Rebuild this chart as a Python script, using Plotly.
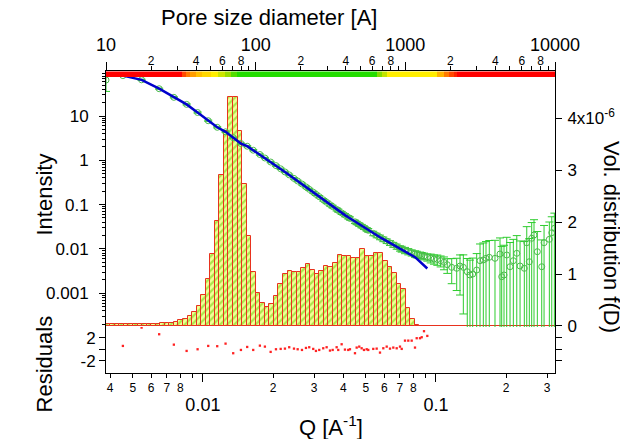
import math
import plotly.graph_objects as go

# ---------------- data ----------------
# SAXS data: Q [1/A], intensity, uncertainty
Q_DATA = [0.00384, 0.004537, 0.005458, 0.006493, 0.007507, 0.008514, 0.00949, 0.01054, 0.01152, 0.01251,
          0.01349, 0.01456, 0.01549, 0.01644, 0.01756, 0.01845, 0.01953, 0.02058, 0.02156, 0.02249,
          0.02346, 0.02459, 0.0255, 0.02661, 0.02768, 0.02859, 0.02974, 0.03055, 0.03156, 0.03283,
          0.03395, 0.03509, 0.03604, 0.03748, 0.03808, 0.03938, 0.04068, 0.04203, 0.04275, 0.04492,
          0.04568, 0.04686, 0.04798, 0.04909, 0.05042, 0.05122, 0.05381, 0.05566, 0.05751, 0.05942,
          0.06145, 0.06349, 0.06559, 0.06783, 0.07008, 0.07127, 0.07362, 0.07606, 0.07866, 0.08127,
          0.08265, 0.08538, 0.08683, 0.08883, 0.09178,
          0.09491, 0.09804, 0.1013, 0.1047, 0.1082, 0.1118, 0.1168, 0.1227, 0.1268, 0.1310,
          0.1362, 0.1399, 0.1437, 0.1495, 0.1545, 0.1596, 0.1639, 0.1693, 0.1791, 0.1882,
          0.1914, 0.1958, 0.2011, 0.2078, 0.2147, 0.2221, 0.2294, 0.2393, 0.2451, 0.2514,
          0.2574, 0.2633, 0.2721, 0.2842, 0.2908, 0.3064, 0.3138, 0.322]
I_DATA = [64.9, 81.7, 65.6, 41.3, 26.4, 18.3, 12.0, 7.83, 5.56, 4.40,
          3.25, 2.39, 2.08, 1.69, 1.35, 1.127, 0.915, 0.759, 0.643, 0.547,
          0.468, 0.390, 0.341, 0.292, 0.251, 0.2215, 0.1905, 0.1708, 0.1508, 0.1283,
          0.1127, 0.0995, 0.0901, 0.0779, 0.0736, 0.0650, 0.0579, 0.0517, 0.0488, 0.0409,
          0.0386, 0.0354, 0.0327, 0.0303, 0.0277, 0.0263, 0.0224, 0.0202, 0.0183, 0.01656,
          0.0150, 0.01366, 0.01244, 0.01133, 0.01031, 0.00995, 0.0093, 0.00874, 0.00821, 0.00775,
          0.00755, 0.00728, 0.0071, 0.00684, 0.0065,
          0.00623, 0.00592, 0.00576, 0.00542, 0.00498, 0.0044, 0.00384, 0.00365, 0.00411, 0.00384,
          0.00306, 0.00258, 0.00271, 0.00334, 0.00542, 0.00562, 0.00613, 0.00646, 0.00613, 0.00767,
          0.00236, 0.00258, 0.00728, 0.00396, 0.00542, 0.00796, 0.00411, 0.00365, 0.0138, 0.00514,
          0.01735, 0.0206, 0.00865, 0.00396, 0.0138, 0.01647, 0.0232, 0.0292]
I_ERR = [29, 2.5, 2.0, 1.2, 0.8, 0.55, 0.36, 0.25, 0.18, 0.14,
         0.1, 0.075, 0.065, 0.055, 0.045, 0.038, 0.032, 0.027, 0.024, 0.021,
         0.019, 0.016, 0.015, 0.015, 0.013, 0.012, 0.011, 0.010, 0.009, 0.008,
         0.0075, 0.007, 0.0065, 0.006, 0.006, 0.0052, 0.0047, 0.0043, 0.0041, 0.0036,
         0.0034, 0.0032, 0.0030, 0.0028, 0.0026, 0.0025, 0.0026, 0.0024, 0.0022, 0.0020,
         0.0018, 0.0017, 0.0016, 0.0015, 0.0014, 0.0015, 0.0015, 0.0014, 0.0013, 0.0013,
         0.0013, 0.0012, 0.0012, 0.0012, 0.0012,
         0.0014, 0.0014, 0.0015, 0.0015, 0.0016, 0.0016, 0.0022, 0.0025, 0.0032, 0.0035,
         0.0030, 0.0030, 0.0035, 0.0045, 0.0075, 0.0080, 0.0085, 0.0090, 0.0095, 0.010,
         0.0090, 0.0095, 0.011, 0.010, 0.011, 0.012, 0.011, 0.011, 0.018, 0.012,
         0.022, 0.025, 0.016, 0.012, 0.020, 0.024, 0.030, 0.035]

# fit model and normalised residuals, at the fitted points Q_DATA[1:65]
FIT_I = [81.7, 65.6, 41.3, 26.4, 18.3, 12.0, 7.83, 5.56, 4.40, 3.25,
         2.39, 2.08, 1.69, 1.35, 1.127, 0.915, 0.759, 0.643, 0.547, 0.468,
         0.390, 0.341, 0.292, 0.251, 0.2215, 0.1905, 0.1708, 0.1508, 0.1283, 0.1127,
         0.0995, 0.0901, 0.0779, 0.0736, 0.0650, 0.0579, 0.0517, 0.0488, 0.0409, 0.0386,
         0.0354, 0.0327, 0.0303, 0.0277, 0.0263, 0.0224, 0.0202, 0.0183, 0.01656, 0.0150,
         0.01366, 0.01244, 0.01133, 0.01016, 0.00974, 0.00887, 0.00825, 0.00747, 0.0065, 0.00604,
         0.00514, 0.00476, 0.00422, 0.00361]
RESIDUALS = [0.61, 3.8, 2.64, 0.83, -0.26, 0.03, 0.61, 0.56, 1.01, -0.66,
             -0.09, 0.43, -0.09, 0.66, 0.49, -0.43, 0.03, 0.09, 0.14, 0.38,
             0.14, 0.03, -0.09, 0.26, 0.38, 0.09, -0.26, -0.09, 0.2, 0.38,
             -0.2, -0.09, 0.38, -0.09, 0.9, -0.03, -0.09, 0.03, -0.66, 0.32,
             0.49, 0.2, -0.09, 0.03, -0.09, 0.09, 0.14, -0.55, 0.2, 0.49,
             0.14, 0.32, 0.2, 0.49, 0.09, 1.53, 1.53, 1.53, 0.32, 1.95,
             1.95, 2.12, 3.17, 2.35]
Q_FIT = Q_DATA[1:65]

# volume size distribution: pore diameter bin centres [A] and f(D) in units of 1e-6
D_CENTERS = [10.31, 11.06, 11.86, 12.72, 13.64, 14.63, 15.68, 16.82, 18.04, 19.34,
             20.75, 22.25, 23.86, 25.59, 27.44, 29.43, 31.56, 33.85, 36.30, 38.93,
             41.75, 44.77, 48.02, 51.49, 55.22, 59.23, 63.52, 68.12, 73.05, 78.34,
             84.01, 90.10, 96.6, 103.6, 111.1, 119.2, 127.8, 137.1, 147.0, 157.6,
             169.0, 181.3, 194.4, 208.5, 223.6, 239.8, 257.2, 275.8, 295.8, 317.2,
             340.2, 364.8, 391.2, 419.6, 450.0, 482.6, 517.5, 555.0, 595.2, 638.3,
             684.5, 734.1, 787.2, 844.3, 905.5, 971.1, 1041, 1117, 1198]
VOL_DIST = [0.04, 0.04, 0.04, 0.04, 0.04, 0.04, 0.04, 0.04, 0.04, 0.04,
            0.04, 0.045, 0.05, 0.05, 0.06, 0.085, 0.11, 0.14, 0.19, 0.26,
            0.385, 0.60, 0.90, 1.38, 2.02, 2.90, 3.76, 4.40, 4.40, 3.76,
            2.73, 1.73, 1.04, 0.64, 0.45, 0.37, 0.43, 0.58, 0.80, 1.0,
            1.05, 1.03, 1.04, 1.11, 1.19, 1.08, 1.0, 1.05, 1.16, 1.14,
            1.22, 1.37, 1.34, 1.34, 1.30, 1.30, 1.48, 1.35, 1.34, 1.40,
            1.41, 1.25, 1.14, 1.02, 0.80, 0.71, 0.34, 0.13, 0.02]
VOL_SCALE = 1e-6

# validity strip along the pore-size axis (0 = red, 1 = yellow, 2 = green)
STRIP_EDGES = [10, 32, 34, 36.5, 40, 44, 50, 56, 62, 68, 75, 650, 700, 755, 1630, 1800, 1950, 2100, 2220, 10000]
STRIP_QUALITY = [0, 0.3, 0.5, 0.65, 0.8, 0.9, 1.0, 1.25, 1.5, 1.8, 2, 1.6, 1.3, 1.0, 0.75, 0.5, 0.3, 0.15, 0]

# axis ticks
TOP_MAJOR = [10, 100, 1000, 10000]
TOP_MAJOR_TEXT = ["10", "100", "1000", "10000"]
BOTTOM_MAJOR = [0.01, 0.1]
BOTTOM_MAJOR_TEXT = ["0.01", "0.1"]
INT_TICKS = [0.001, 0.01, 0.1, 1, 10]
INT_TICK_TEXT = ["0.001", "0.01", "0.1", "1", "10"]
VOL_TICKS = [0, 1, 2, 3, 4]
VOL_TICK_TEXT = ["0", "1", "2", "3", "4x10<sup>-6</sup>"]
RES_TICKS = [-2, 2]
RES_TICK_TEXT = ["-2", "2"]
RES_MINOR = [0]

# ---------------- derived geometry ----------------
def geo_edges(centers):
    mids = [math.sqrt(a * b) for a, b in zip(centers[:-1], centers[1:])]
    lo = [centers[0] ** 2 / mids[0]] + mids
    hi = mids + [centers[-1] ** 2 / mids[-1]]
    return lo, hi

h_lo, h_hi = geo_edges(D_CENTERS)
h_x = [(a + b) / 2 for a, b in zip(h_lo, h_hi)]
h_w = [b - a for a, b in zip(h_lo, h_hi)]

s_lo, s_hi = STRIP_EDGES[:-1], STRIP_EDGES[1:]
s_x = [(a + b) / 2 for a, b in zip(s_lo, s_hi)]
s_w = [b - a for a, b in zip(s_lo, s_hi)]

def digit_ticks(decades, keep, lo, hi):
    lab_v, lab_t, unl_v = [], [], []
    for d in decades:
        for m in range(2, 10):
            v = m * d
            if not (lo < v < hi):
                continue
            if m in keep:
                lab_v.append(v)
                lab_t.append(str(m))
            else:
                unl_v.append(v)
    return lab_v, lab_t, unl_v

top_lab_v, top_lab_t, top_unl_v = digit_ticks([10, 100, 1000], {2, 4, 6, 8}, 10, 10000)
bot_lab_v, bot_lab_t, bot_unl_v = digit_ticks([0.001, 0.01, 0.1], {2, 3, 4, 5, 6, 7, 8}, 0.0038, 0.33)
int_minor = [m * 10 ** e for e in range(-4, 2) for m in range(2, 10)]

Q_RANGE = [math.log10(0.00384), math.log10(0.324)]

FONT = "Liberation Sans, Arial, sans-serif"
BLACK = "#000000"
RED = "#e8321e"

fig = go.Figure()

# histogram (base subplot x / y)
fig.add_trace(go.Bar(
    x=h_x, y=[v * VOL_SCALE for v in VOL_DIST], width=h_w,
    xaxis="x", yaxis="y",
    marker=dict(color="#f2ff96", line=dict(color=RED, width=1),
                pattern=dict(shape="/", fgcolor="#66cc00", bgcolor="#f2ff96", size=5, solidity=0.45)),
    hoverinfo="skip", showlegend=False))

# validity strip
fig.add_trace(go.Bar(
    x=s_x, y=[1] * len(s_x), width=s_w, xaxis="x", yaxis="y4",
    marker=dict(color=STRIP_QUALITY, cmin=0, cmax=2,
                colorscale=[[0, "#ff0000"], [0.25, "#ff7a00"], [0.5, "#ffee00"], [0.75, "#99dd00"], [1, "#22dd00"]],
                line=dict(width=0)),
    hoverinfo="skip", showlegend=False))

# invisible helper for the top minor-label axis
fig.add_trace(go.Scatter(x=D_CENTERS, y=[v * VOL_SCALE for v in VOL_DIST], xaxis="x3", yaxis="y",
                         mode="markers", marker=dict(opacity=0), hoverinfo="skip", showlegend=False))

# invisible helper for the bottom minor-label axis
fig.add_trace(go.Scatter(x=Q_FIT, y=RESIDUALS, xaxis="x4", yaxis="y3", mode="markers",
                         marker=dict(opacity=0), hoverinfo="skip", showlegend=False))

# measured data
fig.add_trace(go.Scatter(
    x=Q_DATA, y=I_DATA, xaxis="x2", yaxis="y2", mode="markers",
    marker=dict(symbol="circle-open", size=6, color="#4dbb4d", line=dict(width=1)),
    error_y=dict(type="data", array=I_ERR, color="#2ecc2e", thickness=1, width=4),
    hoverinfo="skip", showlegend=False))

# model fit
fig.add_trace(go.Scatter(
    x=Q_FIT, y=FIT_I, xaxis="x2", yaxis="y2", mode="lines",
    line=dict(color="#0000cc", width=2.5), hoverinfo="skip", showlegend=False))

# residuals
fig.add_trace(go.Scatter(
    x=Q_FIT, y=RESIDUALS, xaxis="x2", yaxis="y3", mode="markers",
    marker=dict(symbol="square", size=2.3, color="#ff2222"), hoverinfo="skip", showlegend=False))

axis_common = dict(showgrid=False, zeroline=False, linecolor=BLACK, linewidth=1,
                   tickcolor=BLACK, tickwidth=1, ticks="outside",
                   tickfont=dict(family=FONT, color=BLACK))

MAIN_DOMAIN = [0.1523, 1.0]

# the page body adds an 8 px offset, so the figure is 8 px smaller than the window
fig.update_layout(
    width=620, height=431,
    margin=dict(l=98, r=73, t=63, b=66, pad=0),
    paper_bgcolor="white", plot_bgcolor="rgba(0,0,0,0)",
    showlegend=False, barmode="overlay", bargap=0,
    font=dict(family=FONT, color=BLACK),
    xaxis=dict(axis_common, type="log", range=[1, 4], side="top", anchor="y",
               tickmode="array", tickvals=TOP_MAJOR, ticktext=TOP_MAJOR_TEXT,
               ticklen=8, tickfont=dict(family=FONT, size=18, color=BLACK),
               ticklabelstandoff=4, showline=True),
    xaxis3=dict(axis_common, type="log", range=[1, 4], side="top", anchor="y", overlaying="x",
                tickmode="array", tickvals=top_lab_v, ticktext=top_lab_t,
                ticklen=4, tickfont=dict(family=FONT, size=12, color=BLACK), ticklabelstandoff=-4,
                minor=dict(ticks="outside", ticklen=4, tickcolor=BLACK, tickmode="array", tickvals=top_unl_v),
                showline=False),
    xaxis2=dict(axis_common, type="log", range=Q_RANGE, side="bottom", anchor="y3", overlaying="x",
                tickmode="array", tickvals=BOTTOM_MAJOR, ticktext=BOTTOM_MAJOR_TEXT,
                ticklen=8, tickfont=dict(family=FONT, size=18, color=BLACK),
                ticklabelstandoff=7, showline=True),
    xaxis4=dict(axis_common, type="log", range=Q_RANGE, side="bottom", anchor="y3", overlaying="x",
                tickmode="array", tickvals=bot_lab_v, ticktext=bot_lab_t,
                ticklen=4, tickfont=dict(family=FONT, size=12, color=BLACK),
                minor=dict(ticks="outside", ticklen=4, tickcolor=BLACK, tickmode="array", tickvals=bot_unl_v),
                showline=False),
    yaxis=dict(axis_common, domain=MAIN_DOMAIN, range=[-0.02e-6, 4.91e-6], side="right", anchor="x",
               tickmode="array", tickvals=[v * VOL_SCALE for v in VOL_TICKS], ticktext=VOL_TICK_TEXT,
               ticklen=6, tickfont=dict(family=FONT, size=17, color=BLACK), ticklabelstandoff=2,
               showline=True, zeroline=True, zerolinecolor=RED, zerolinewidth=1),
    yaxis2=dict(axis_common, type="log", overlaying="y", side="left", anchor="x2",
                range=[-3.763, 2.016], tickmode="array", tickvals=INT_TICKS, ticktext=INT_TICK_TEXT,
                ticklen=6, tickfont=dict(family=FONT, size=17, color=BLACK), ticklabelstandoff=7,
                minor=dict(ticks="outside", ticklen=3, tickcolor=BLACK, tickmode="array", tickvals=int_minor),
                showline=True),
    yaxis3=dict(axis_common, domain=[0, MAIN_DOMAIN[0]], anchor="x2", side="left", range=[-4.1, 3.9],
                tickmode="array", tickvals=RES_TICKS, ticktext=RES_TICK_TEXT,
                ticklen=6, tickfont=dict(family=FONT, size=17, color=BLACK),
                minor=dict(ticks="outside", ticklen=6, tickcolor=BLACK, tickmode="array", tickvals=RES_MINOR),
                showline=True, mirror="ticks"),
    yaxis4=dict(domain=[0.980, 0.9985], anchor="x", range=[0, 1], visible=False, fixedrange=True),
)

TITLE_FONT = dict(family=FONT, size=22, color=BLACK)
ann = [
    dict(text="Pore size diameter [A]", x=0.363, y=1.1755, textangle=0),
    dict(text="Q [A<sup>-1</sup>]", x=0.501, y=-0.1745, textangle=0),
    dict(text="Intensity", x=-0.1359, y=0.591, textangle=-90),
    dict(text="Residuals", x=-0.1359, y=0.0315, textangle=-90),
    dict(text="Vol. distribution f(D)", x=1.1258, y=0.4487, textangle=90),
]
for a in ann:
    fig.add_annotation(xref="paper", yref="paper", showarrow=False,
                       xanchor="center", yanchor="middle", font=TITLE_FONT, **a)

fig.write_html("out.html")
